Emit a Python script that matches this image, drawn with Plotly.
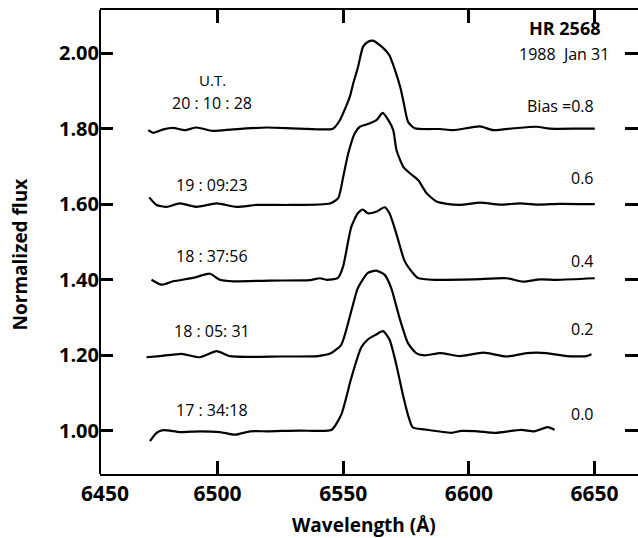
import plotly.graph_objects as go

# ---- data (wavelength in Angstrom, normalized flux before bias) ----
times = ["17 : 34:18", "18 : 05: 31", "18 : 37:56", "19 : 09:23", "20 : 10 : 28"]
biases = [0.0, 0.2, 0.4, 0.6, 0.8]
bias_labels = ["0.0", "0.2", "0.4", "0.6", "Bias =0.8"]

wl0 = [6473.1, 6475.7, 6478.4, 6485.0, 6493.0, 6500.9, 6506.9, 6512.9, 6520.0, 6532.7, 6540.0, 6545.4,
       6549.2, 6553.2, 6557.1, 6559.8, 6563.1, 6565.8, 6568.4, 6571.1, 6573.7, 6575.7, 6577.7, 6582.3,
       6593.0, 6597.0, 6603.6, 6610.3, 6620.9, 6626.0, 6631.4, 6634.1]
f0 = [0.973, 0.995, 1.002, 0.997, 0.999, 0.997, 0.990, 0.999, 0.999, 1.001, 1.000, 1.003,
      1.043, 1.140, 1.220, 1.242, 1.255, 1.264, 1.242, 1.176, 1.097, 1.044, 1.009, 1.004,
      0.995, 1.000, 0.999, 0.995, 1.003, 0.999, 1.010, 1.003]

wl1 = [6471.7, 6477.0, 6485.7, 6492.9, 6499.6, 6504.9, 6512.9, 6524.8, 6539.9, 6545.2, 6549.2, 6553.2,
       6555.8, 6559.8, 6563.1, 6566.5, 6569.1, 6572.4, 6575.7, 6579.0, 6582.4, 6588.6, 6596.5, 6605.8,
       6615.0, 6623.0, 6630.9, 6638.9, 6646.8, 6648.8]
f1 = [0.995, 0.998, 1.004, 0.995, 1.011, 0.998, 0.996, 0.997, 0.998, 1.006, 1.028, 1.117,
      1.178, 1.218, 1.224, 1.213, 1.178, 1.099, 1.033, 1.006, 1.000, 1.006, 0.998, 1.007,
      0.997, 1.006, 1.006, 0.998, 0.998, 1.003]

wl2 = [6473.7, 6477.7, 6482.3, 6490.3, 6496.9, 6500.9, 6506.2, 6520.8, 6536.7, 6540.7, 6543.4, 6547.9,
       6549.9, 6553.2, 6555.8, 6557.8, 6559.8, 6563.1, 6566.5, 6568.4, 6571.1, 6574.4, 6577.7, 6579.7,
       6586.3, 6601.7, 6615.0, 6621.6, 6628.3, 6634.9, 6650.1]
f2 = [1.000, 0.987, 0.996, 1.005, 1.016, 1.000, 0.996, 0.998, 0.999, 1.004, 1.000, 1.005,
      1.034, 1.140, 1.176, 1.186, 1.176, 1.180, 1.192, 1.176, 1.123, 1.050, 1.018, 1.005,
      1.000, 1.001, 1.004, 0.995, 1.001, 1.000, 1.004]

wl3 = [6472.8, 6475.7, 6479.7, 6485.0, 6491.6, 6499.6, 6507.6, 6515.5, 6528.8, 6544.7, 6548.0, 6550.0,
       6552.0, 6554.6, 6556.6, 6560.6, 6563.3, 6565.7, 6567.9, 6569.9, 6571.2, 6573.9, 6576.5, 6579.8,
       6583.2, 6587.1, 6591.1, 6596.4, 6604.4, 6612.3, 6620.3, 6628.2, 6636.2, 6650.1]
f3 = [1.018, 0.998, 0.993, 1.002, 0.993, 1.002, 0.993, 0.998, 0.998, 1.002, 1.016, 1.073,
      1.135, 1.188, 1.205, 1.214, 1.223, 1.242, 1.223, 1.196, 1.143, 1.099, 1.082, 1.064,
      1.029, 1.007, 1.001, 0.998, 1.004, 0.999, 1.002, 0.999, 1.001, 1.000]

wl4 = [6472.4, 6474.4, 6478.4, 6482.3, 6487.0, 6491.6, 6498.1, 6506.1, 6519.5, 6532.7, 6545.9, 6548.7,
       6552.6, 6554.0, 6555.9, 6557.9, 6559.9, 6561.7, 6565.3, 6568.3, 6570.6, 6572.8, 6574.1, 6575.8,
       6578.5, 6588.5, 6593.8, 6604.4, 6609.7, 6618.0, 6626.9, 6632.2, 6644.2, 6650.1]
f4 = [0.996, 0.989, 0.998, 1.002, 0.996, 1.003, 0.994, 0.998, 1.003, 1.000, 1.000, 1.023,
      1.084, 1.120, 1.164, 1.217, 1.230, 1.233, 1.217, 1.195, 1.155, 1.107, 1.067, 1.018,
      1.001, 0.999, 0.996, 1.006, 0.996, 1.001, 1.005, 1.000, 1.000, 1.000]

wavelengths = [wl0, wl1, wl2, wl3, wl4]
fluxes = [f0, f1, f2, f3, f4]

x_ticks = [6500, 6550, 6600, 6650]
y_ticks = [1.00, 1.20, 1.40, 1.60, 1.80, 2.00]

# label placement (data coordinates)
time_label_y = [1.056, 1.265, 1.463, 1.651, 1.868]
bias_label_y = [1.045, 1.270, 1.450, 1.669, 1.861]

FONT = "Open Sans"
fig = go.Figure()
for wl, fl, b in zip(wavelengths, fluxes, biases):
    fig.add_trace(go.Scatter(
        x=wl, y=[v + b for v in fl], mode="lines",
        line=dict(color="black", width=2.2, shape="spline", smoothing=0.6),
        showlegend=False, hoverinfo="skip"))

annotations = []
for t, yy in zip(times, time_label_y):
    annotations.append(dict(x=6497.8, y=yy, text=t, showarrow=False, xanchor="center",
                            yanchor="middle", font=dict(family=FONT, size=16, color="black")))
annotations.append(dict(x=6497.8, y=1.928, text="U.T.", showarrow=False, xanchor="center",
                        yanchor="middle", font=dict(family=FONT, size=15, color="black")))
for t, yy in zip(bias_labels, bias_label_y):
    annotations.append(dict(x=6650.6, y=yy, text=t, showarrow=False, xanchor="right",
                            yanchor="middle", font=dict(family=FONT, size=16, color="black")))
annotations += [
    dict(x=0.865, y=0.961, xref="paper", yref="paper", text="HR 2568", showarrow=False,
         xanchor="center", yanchor="middle", font=dict(family=FONT, size=18, color="black", weight="bold")),
    dict(x=0.862, y=0.905, xref="paper", yref="paper", text="1988  Jan 31", showarrow=False,
         xanchor="center", yanchor="middle", font=dict(family=FONT, size=16, color="black")),
    dict(x=0.0, y=0.0, xref="paper", yref="paper", text="<b>6450</b>", showarrow=False,
         xanchor="center", yanchor="top", xshift=5, yshift=-3,
         font=dict(family=FONT, size=21, color="black")),
    dict(x=0.49, y=-0.11, xref="paper", yref="paper", text="Wavelength (Å)", showarrow=False,
         xanchor="center", yanchor="middle",
         font=dict(family=FONT, size=19, color="black", weight="bold")),
    dict(x=-0.148, y=0.474, xref="paper", yref="paper", text="Normalized flux", showarrow=False,
         textangle=-90, xanchor="center", yanchor="middle",
         font=dict(family=FONT, size=19, color="black", weight="bold")),
]

fig.update_layout(
    width=638, height=538,
    margin=dict(l=100, r=0, t=10, b=64),
    paper_bgcolor="white", plot_bgcolor="white",
    showlegend=False,
    annotations=annotations,
    shapes=[dict(type="line", xref="paper", yref="paper", x0=0, x1=0, y0=0, y1=1,
                 line=dict(color="black", width=2))],
    xaxis=dict(range=[6453.2, 6667.3], tickvals=x_ticks,
               ticktext=["<b>%d</b>" % v for v in x_ticks],
               ticks="inside", ticklen=13, tickwidth=2.5, tickcolor="black",
               showline=True, linecolor="black", linewidth=2, mirror="ticks",
               showgrid=False, zeroline=False,
               tickfont=dict(family=FONT, size=21, color="black")),
    yaxis=dict(range=[0.886, 2.114], tickvals=y_ticks, tickformat=".2f",
               ticks="inside", ticklen=13, tickwidth=2.5, tickcolor="black",
               showline=False, mirror="ticks",
               showgrid=False, zeroline=False,
               tickfont=dict(family=FONT, size=20, color="black", weight="bold")),
)

fig.write_html("out.html")
